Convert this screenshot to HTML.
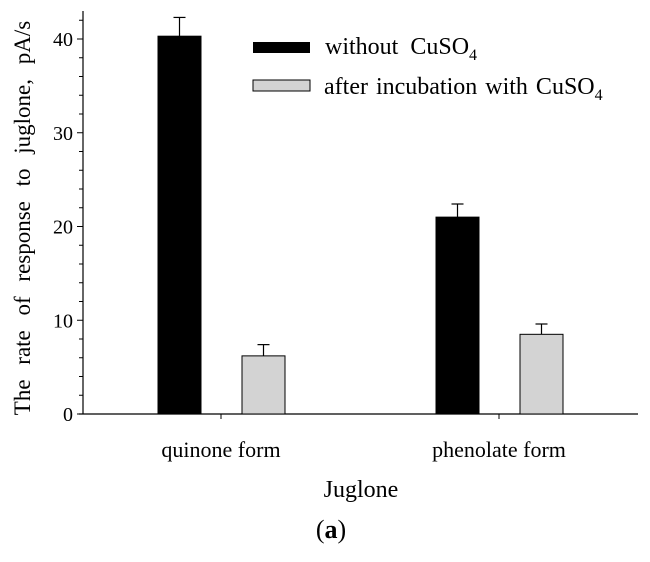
<!DOCTYPE html>
<html><head><meta charset="utf-8"><style>
body{margin:0;background:#fff}
svg text{font-family:"Liberation Serif",serif;fill:#000}
</style></head><body>
<svg width="650" height="557">
<g id="chart"></g>
</svg>
<script>
const categories=["quinone form","phenolate form"];
const withoutCu=[40.3,21.0];
const withoutErr=[2.0,1.4];
const afterCu=[6.2,8.5];
const afterErr=[1.2,1.1];
const yTicks=[0,10,20,30,40];
const ns="http://www.w3.org/2000/svg";
const g=document.getElementById("chart");
const x0=83,y0=414,pxPerUnit=9.375;
const y=v=>y0-v*pxPerUnit;
const catX=[221,499];
function mk(t,a,name){const e=document.createElementNS(ns,t);for(const k in a)e.setAttribute(k,a[k]);


g.appendChild(e);return e;}
mk("line",{x1:x0,y1:11,x2:x0,y2:y0,stroke:"#000","stroke-width":1.2},"y-axis");
mk("line",{x1:x0-4,y1:y0,x2:638,y2:y0,stroke:"#000","stroke-width":1.2},"x-axis");
for(let v=0;v<=42;v+=2){const major=v%10===0;
mk("line",{x1:x0-(major?6:4),y1:y(v),x2:x0,y2:y(v),stroke:"#000","stroke-width":1},"y-tick");}
yTicks.forEach(v=>{const t=mk("text",{x:x0-10,y:y(v)+7,"text-anchor":"end","font-size":20},"y-tick-label");t.textContent=v;});
categories.forEach((c,i)=>{
mk("line",{x1:catX[i],y1:y0,x2:catX[i],y2:y0+5,stroke:"#000"},"x-tick");
const t=mk("text",{x:catX[i],y:457,"text-anchor":"middle","font-size":22},"x-tick-label");t.textContent=c;
const bw=43;
[[withoutCu,withoutErr,-63,"#000","bar-without-cuso4"],[afterCu,afterErr,21,"#d3d3d3","bar-after-cuso4"]].forEach(([vals,errs,off,fill,name])=>{
const bx=catX[i]+off,top=y(vals[i]),et=y(vals[i]+errs[i]);
mk("line",{x1:bx+bw/2,y1:top,x2:bx+bw/2,y2:et,stroke:"#000","stroke-width":1.2},"error-bar");
mk("line",{x1:bx+bw/2-6,y1:et,x2:bx+bw/2+6,y2:et,stroke:"#000","stroke-width":1.2},"error-cap");
mk("rect",{x:bx,y:top,width:bw,height:y0-top,fill:fill,stroke:"#000","stroke-width":1},name);
});
});
mk("rect",{x:253,y:42,width:57,height:11,fill:"#000"},"legend-swatch-without");
mk("rect",{x:253,y:80,width:57,height:11,fill:"#d3d3d3",stroke:"#000","stroke-width":1},"legend-swatch-after");
let t=mk("text",{x:325,y:54,"font-size":24},"legend-entry-without");
t.innerHTML='without&#160; CuSO<tspan font-size="16" dy="6">4</tspan>';
t=mk("text",{x:324,y:94,"font-size":24,"word-spacing":"2"},"legend-entry-after");
t.innerHTML='after incubation with CuSO<tspan font-size="16" dy="6">4</tspan>';
t=mk("text",{x:30,y:218,"font-size":23,"text-anchor":"middle",transform:"rotate(-90 30 218)","word-spacing":"9"},"y-axis-title");
t.textContent="The rate of response to juglone, pA/s";
t=mk("text",{x:361,y:497,"font-size":24,"text-anchor":"middle"},"x-axis-title");
t.textContent="Juglone";
t=mk("text",{x:331,y:538,"font-size":26,"text-anchor":"middle"},"panel-label");
t.innerHTML='(<tspan font-weight="bold">a</tspan>)';
</script>
</body></html>
